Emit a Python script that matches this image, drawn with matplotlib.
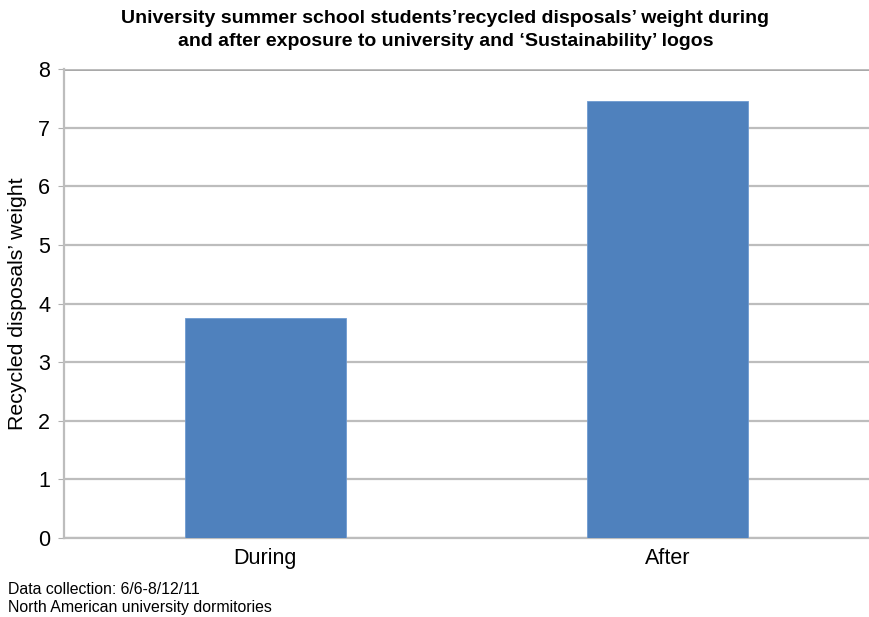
import matplotlib.pyplot as plt
import numpy as np

plt.rcParams['font.family'] = ['Liberation Sans', 'DejaVu Sans']

categories = ["During", "After"]
weights = [3.76, 7.45]
y_ticks = [0, 1, 2, 3, 4, 5, 6, 7, 8]

TITLE = ("University summer school students\u2019recycled disposals\u2019 weight during\n"
         "and after exposure to university and \u2018Sustainability\u2019 logos")
Y_LABEL = "Recycled disposals\u2019 weight"
NOTE = "Data collection: 6/6-8/12/11\nNorth American university dormitories"

fig = plt.figure(figsize=(8.7, 6.17), dpi=100)
ax = fig.add_axes([0.0736, 0.128, 0.925, 0.76])

x = np.arange(len(categories))
ax.bar(x, weights, width=0.4, color="#4f81bd", edgecolor="#6f9ad0", linewidth=0.6, zorder=3)

ax.set_xlim(-0.5, 1.5)
ax.set_ylim(0, 8)
ax.set_yticks(y_ticks)
ax.set_xticks(x)
ax.set_xticklabels(categories, fontsize=15.5)
ax.tick_params(axis="y", labelsize=15.5, length=4, color="#b0b0b0", pad=6)
ax.tick_params(axis="x", length=0, pad=7)
ax.yaxis.grid(True, color="#bdbdbd", linewidth=1.6, zorder=0)
ax.axhline(8, color="#8a8a8a", linewidth=1.8, zorder=1)
for side in ["top", "right"]:
    ax.spines[side].set_visible(False)
ax.spines["left"].set_color("#bdbdbd")
ax.spines["left"].set_linewidth(1.6)
ax.spines["bottom"].set_color("#bdbdbd")
ax.spines["bottom"].set_linewidth(1.6)
ax.set_ylabel(Y_LABEL, fontsize=15.3, labelpad=8)

fig.text(0.512, 0.984, TITLE, ha="center", va="top", fontsize=14,
         fontweight="bold", linespacing=1.5)
fig.text(0.009, 0.057, NOTE, ha="left", va="top", fontsize=11.4, linespacing=1.25)

fig.savefig("out.png", dpi=100)
